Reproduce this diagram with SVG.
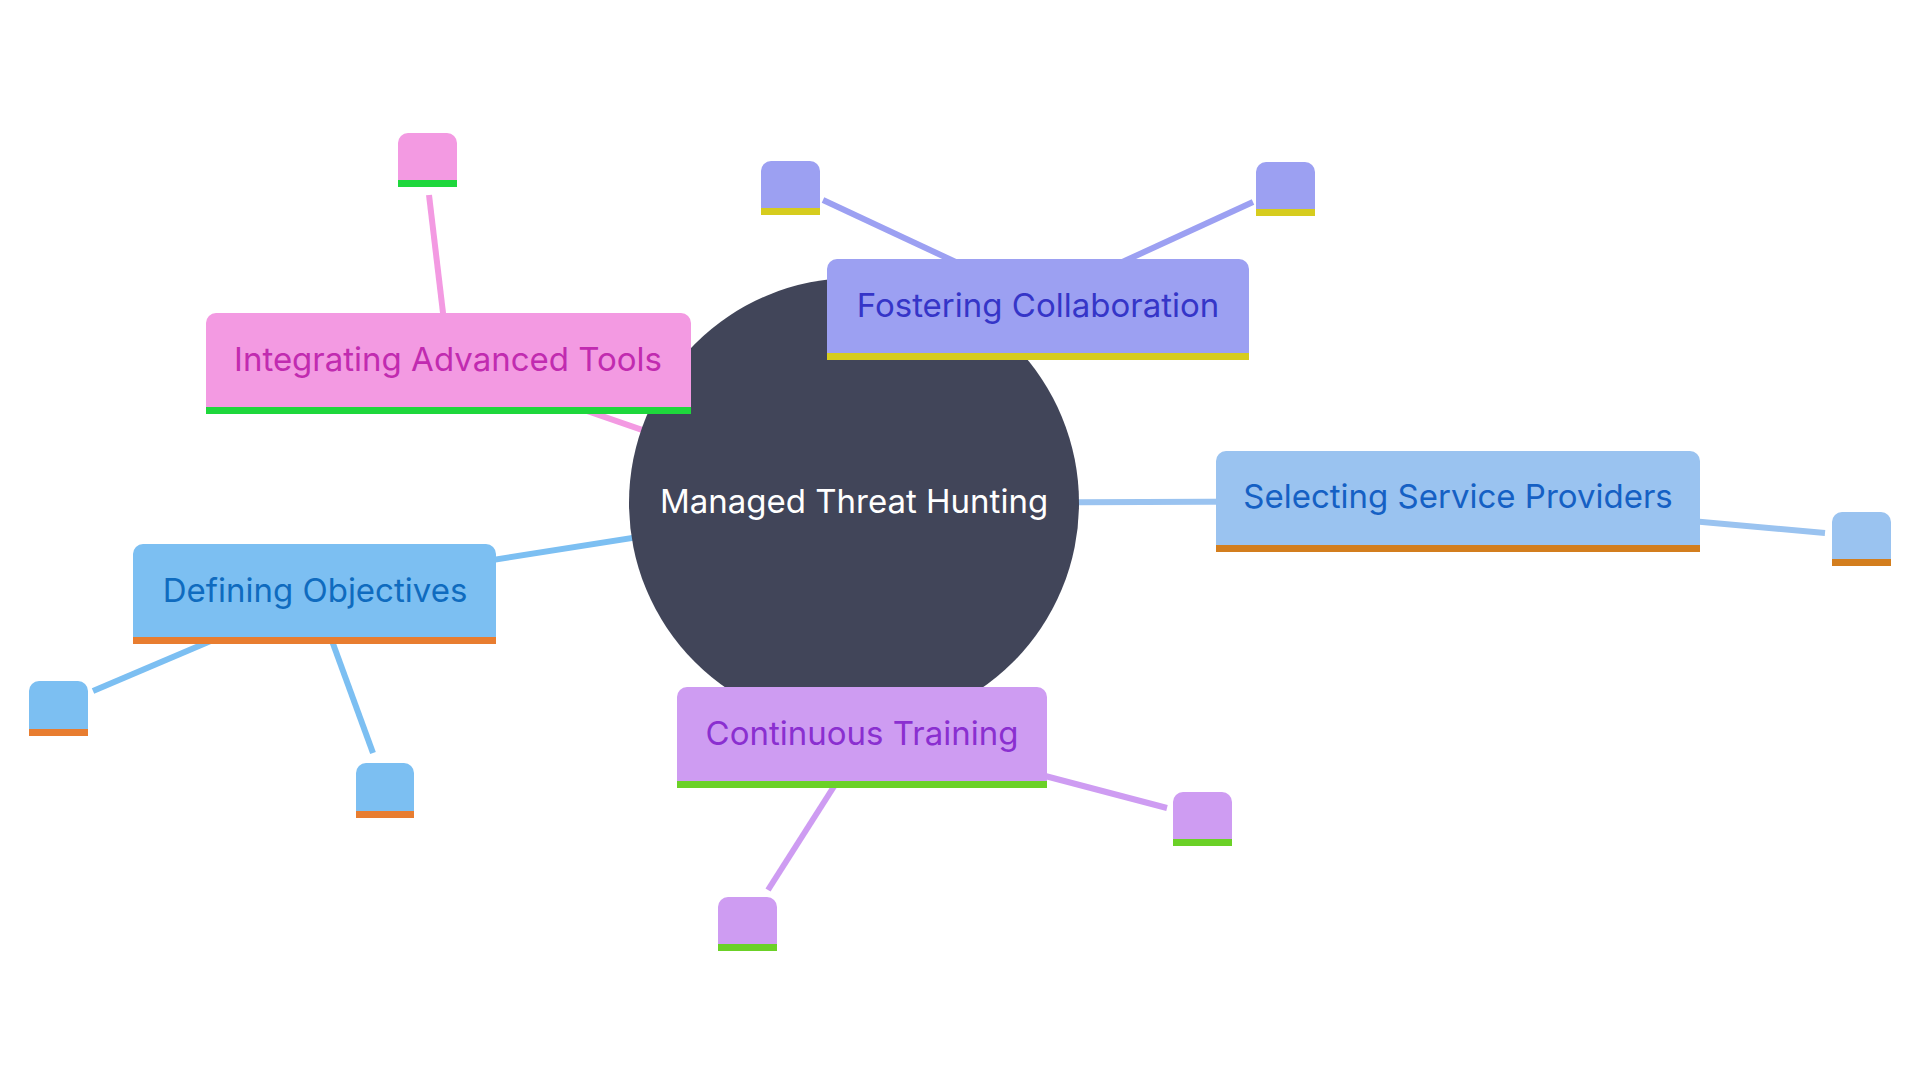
<svg xmlns="http://www.w3.org/2000/svg" width="1920" height="1080" viewBox="0 0 1920 1080">
<style>
  .lbl { font-family: Inter, "Noto Sans", "Liberation Sans", sans-serif; font-size: 33px; text-anchor: middle; }
  .edge { fill: none; stroke-width: 6; stroke-linecap: butt; }
  .pink { fill: #F39AE2; } .pinkS { stroke: #F39AE2; } .pinkB { fill: #1ED73C; }
  .vio { fill: #9CA0F2; } .vioS { stroke: #9CA0F2; } .vioB { fill: #D6CC1E; }
  .sky { fill: #9AC3F0; } .skyS { stroke: #9AC3F0; } .skyB { fill: #D37E1E; }
  .blu { fill: #7CBFF2; } .bluS { stroke: #7CBFF2; } .bluB { fill: #E87D30; }
  .lil { fill: #CE9CF2; } .lilS { stroke: #CE9CF2; } .lilB { fill: #6BD127; }
</style>
<rect width="1920" height="1080" fill="#ffffff"/>
<g id="connectors">
  <line class="edge pinkS" x1="854" y1="503" x2="448" y2="363"/>
  <line class="edge pinkS" x1="429" y1="195" x2="448" y2="355"/>
  <line class="edge vioS" x1="854" y1="503" x2="1040" y2="309"/>
  <line class="edge vioS" x1="823" y1="200" x2="960" y2="264"/>
  <line class="edge vioS" x1="1253" y1="202" x2="1118" y2="264"/>
  <line class="edge skyS" x1="854" y1="503" x2="1460" y2="501"/>
  <line class="edge skyS" x1="1680" y1="520" x2="1825" y2="533"/>
  <line class="edge bluS" x1="854" y1="503" x2="315" y2="588"/>
  <line class="edge bluS" x1="93" y1="691" x2="220" y2="637"/>
  <line class="edge bluS" x1="373" y1="753" x2="328" y2="630"/>
  <line class="edge lilS" x1="854" y1="503" x2="863" y2="737"/>
  <line class="edge lilS" x1="1167" y1="808" x2="1030" y2="772"/>
  <line class="edge lilS" x1="768" y1="890" x2="840" y2="777"/>
</g>
<g id="root">
  <circle cx="854" cy="503" r="225" fill="#414559"/>
  <text class="lbl" x="854" y="513" fill="#ffffff">Managed Threat Hunting</text>
</g>
<g id="integrating">
  <path class="pink" d="M206,414 V323 a10,10 0 0 1 10,-10 H681 a10,10 0 0 1 10,10 V414 Z"/>
  <rect class="pinkB" x="206" y="407" width="485" height="7"/>
  <text class="lbl" x="448" y="371" fill="#C12BB0">Integrating Advanced Tools</text>
</g>
<g id="integrating-leaf">
  <path class="pink" d="M398,187 V143 a10,10 0 0 1 10,-10 H447 a10,10 0 0 1 10,10 V187 Z"/>
  <rect class="pinkB" x="398" y="180" width="59" height="7"/>
</g>
<g id="fostering">
  <path class="vio" d="M827,360 V269 a10,10 0 0 1 10,-10 H1239 a10,10 0 0 1 10,10 V360 Z"/>
  <rect class="vioB" x="827" y="353" width="422" height="7"/>
  <text class="lbl" x="1038" y="317" fill="#3535C8">Fostering Collaboration</text>
</g>
<g id="fostering-leaf-1">
  <path class="vio" d="M761,215 V171 a10,10 0 0 1 10,-10 H810 a10,10 0 0 1 10,10 V215 Z"/>
  <rect class="vioB" x="761" y="208" width="59" height="7"/>
</g>
<g id="fostering-leaf-2">
  <path class="vio" d="M1256,216 V172 a10,10 0 0 1 10,-10 H1305 a10,10 0 0 1 10,10 V216 Z"/>
  <rect class="vioB" x="1256" y="209" width="59" height="7"/>
</g>
<g id="selecting">
  <path class="sky" d="M1216,552 V461 a10,10 0 0 1 10,-10 H1690 a10,10 0 0 1 10,10 V552 Z"/>
  <rect class="skyB" x="1216" y="545" width="484" height="7"/>
  <text class="lbl" x="1458" y="508" fill="#1560C4">Selecting Service Providers</text>
</g>
<g id="selecting-leaf">
  <path class="sky" d="M1832,566 V522 a10,10 0 0 1 10,-10 H1881 a10,10 0 0 1 10,10 V566 Z"/>
  <rect class="skyB" x="1832" y="559" width="59" height="7"/>
</g>
<g id="defining">
  <path class="blu" d="M133,644 V554 a10,10 0 0 1 10,-10 H486 a10,10 0 0 1 10,10 V644 Z"/>
  <rect class="bluB" x="133" y="637" width="363" height="7"/>
  <text class="lbl" x="315" y="602" fill="#0F6BBF">Defining Objectives</text>
</g>
<g id="defining-leaf-1">
  <path class="blu" d="M29,736 V691 a10,10 0 0 1 10,-10 H78 a10,10 0 0 1 10,10 V736 Z"/>
  <rect class="bluB" x="29" y="729" width="59" height="7"/>
</g>
<g id="defining-leaf-2">
  <path class="blu" d="M356,818 V773 a10,10 0 0 1 10,-10 H404 a10,10 0 0 1 10,10 V818 Z"/>
  <rect class="bluB" x="356" y="811" width="58" height="7"/>
</g>
<g id="continuous">
  <path class="lil" d="M677,788 V697 a10,10 0 0 1 10,-10 H1037 a10,10 0 0 1 10,10 V788 Z"/>
  <rect class="lilB" x="677" y="781" width="370" height="7"/>
  <text class="lbl" x="862" y="745" fill="#8A2FD0">Continuous Training</text>
</g>
<g id="continuous-leaf-1">
  <path class="lil" d="M1173,846 V802 a10,10 0 0 1 10,-10 H1222 a10,10 0 0 1 10,10 V846 Z"/>
  <rect class="lilB" x="1173" y="839" width="59" height="7"/>
</g>
<g id="continuous-leaf-2">
  <path class="lil" d="M718,951 V907 a10,10 0 0 1 10,-10 H767 a10,10 0 0 1 10,10 V951 Z"/>
  <rect class="lilB" x="718" y="944" width="59" height="7"/>
</g>
</svg>
